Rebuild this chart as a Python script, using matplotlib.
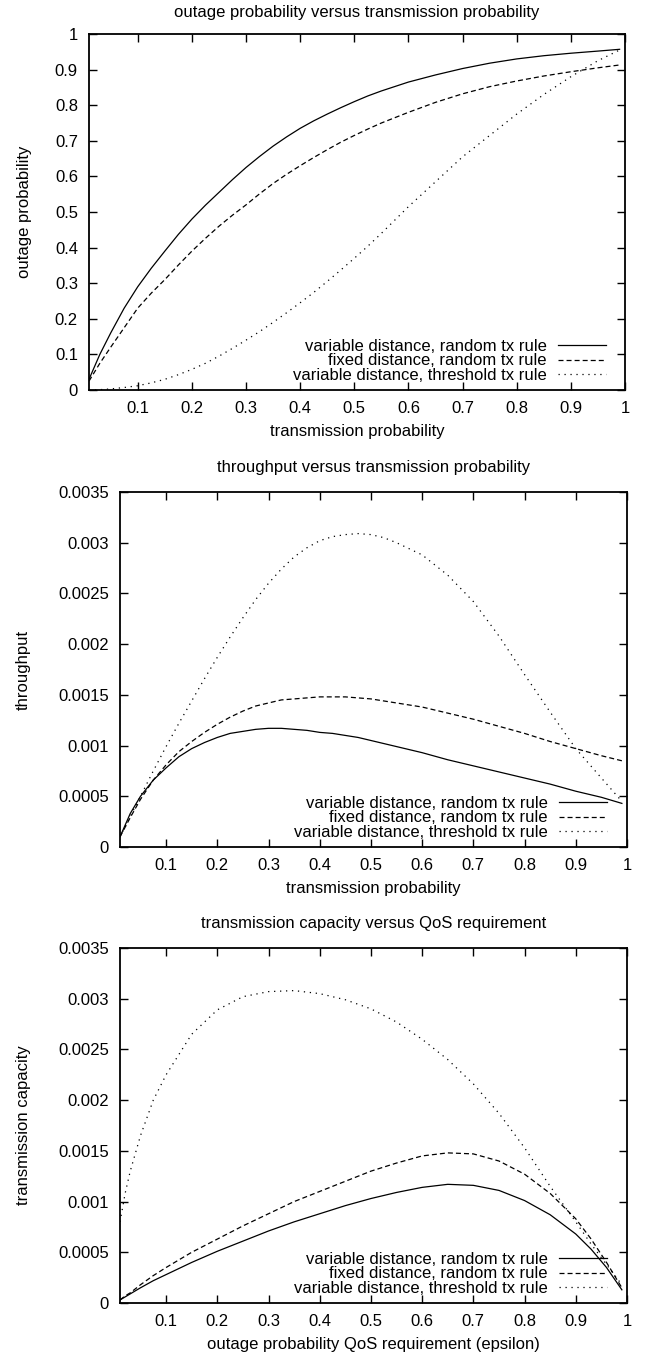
import matplotlib
matplotlib.use("Agg")
import matplotlib.pyplot as plt
from matplotlib.ticker import FuncFormatter

# ---- data ----
labels = ["variable distance, random tx rule",
          "fixed distance, random tx rule",
          "variable distance, threshold tx rule"]

p = [0.01, 0.03, 0.05, 0.075, 0.1, 0.125, 0.15, 0.175, 0.2, 0.225, 0.25, 0.275, 0.3,
     0.325, 0.35, 0.375, 0.4, 0.425, 0.45, 0.475, 0.5, 0.525, 0.55, 0.6, 0.65, 0.7,
     0.75, 0.8, 0.85, 0.9, 0.95, 0.99]

outage_var = [0.03, 0.10, 0.16, 0.23, 0.29, 0.342, 0.39, 0.437, 0.48, 0.519, 0.555, 0.591,
              0.625, 0.656, 0.685, 0.711, 0.735, 0.756, 0.775, 0.793, 0.81, 0.826, 0.84,
              0.865, 0.885, 0.903, 0.918, 0.93, 0.939, 0.946, 0.952, 0.957]
outage_fix = [0.025, 0.075, 0.12, 0.175, 0.23, 0.272, 0.31, 0.351, 0.39, 0.426, 0.46,
              0.491, 0.52, 0.551, 0.58, 0.606, 0.63, 0.653, 0.675, 0.696, 0.715, 0.733,
              0.75, 0.78, 0.808, 0.832, 0.852, 0.868, 0.882, 0.894, 0.905, 0.913]
outage_thr = [0.0, 0.001, 0.003, 0.007, 0.012, 0.02, 0.03, 0.043, 0.058, 0.075, 0.095,
              0.117, 0.14, 0.164, 0.19, 0.217, 0.245, 0.274, 0.305, 0.337, 0.37, 0.404,
              0.44, 0.515, 0.585, 0.655, 0.715, 0.775, 0.83, 0.88, 0.925, 0.955]

thr_var = [0.0001, 0.00033, 0.0005, 0.00066, 0.00078, 0.00089, 0.00097, 0.00103, 0.00108,
           0.00112, 0.00114, 0.00116, 0.00117, 0.00117, 0.00116, 0.00115, 0.00113,
           0.00112, 0.0011, 0.00108, 0.00105, 0.00102, 0.00099, 0.00093, 0.00086,
           0.0008, 0.00074, 0.00068, 0.00062, 0.00055, 0.00049, 0.00043]
thr_fix = [0.0001, 0.00029, 0.00047, 0.00066, 0.00081, 0.00094, 0.00104, 0.00113, 0.00121,
           0.00128, 0.00134, 0.00139, 0.00142, 0.00145, 0.00146, 0.00147, 0.00148,
           0.00148, 0.00148, 0.00147, 0.00146, 0.00144, 0.00142, 0.00138, 0.00132,
           0.00126, 0.00119, 0.00112, 0.00104, 0.00097, 0.0009, 0.00085]
thr_thr = [0.0001, 0.0003, 0.0005, 0.00075, 0.00099, 0.00122, 0.00144, 0.00166, 0.00187,
           0.00207, 0.00226, 0.00244, 0.0026, 0.00274, 0.00286, 0.00295, 0.00302,
           0.00306, 0.00308, 0.00309, 0.00308, 0.00305, 0.003, 0.00288, 0.00268,
           0.00242, 0.00208, 0.0017, 0.00133, 0.00097, 0.00068, 0.00045]

eps = [0.01, 0.02, 0.03, 0.05, 0.075, 0.1, 0.15, 0.2, 0.25, 0.3, 0.35, 0.4, 0.45, 0.5,
       0.55, 0.6, 0.65, 0.7, 0.75, 0.8, 0.85, 0.9, 0.93, 0.96, 0.99]
cap_var = [0.00003, 0.00006, 0.00009, 0.00015, 0.00022, 0.00028, 0.0004, 0.00051, 0.00061,
           0.00071, 0.0008, 0.00088, 0.00096, 0.00103, 0.00109, 0.00114, 0.00117,
           0.00116, 0.00111, 0.00101, 0.00087, 0.00068, 0.00053, 0.00035, 0.00013]
cap_fix = [0.00003, 0.00007, 0.0001, 0.00018, 0.00027, 0.00035, 0.0005, 0.00063, 0.00076,
           0.00088, 0.001, 0.0011, 0.0012, 0.0013, 0.00138, 0.00145, 0.00148, 0.00147,
           0.0014, 0.00127, 0.00108, 0.00083, 0.00063, 0.0004, 0.00015]
cap_thr = [0.0008, 0.00108, 0.0013, 0.00165, 0.002, 0.00225, 0.00265, 0.00289, 0.00302,
           0.00307, 0.00308, 0.00305, 0.00299, 0.0029, 0.00277, 0.0026, 0.0024, 0.00216,
           0.00187, 0.00153, 0.00115, 0.0008, 0.00058, 0.00038, 0.00018]

plt.rcParams['font.family'] = ['Liberation Sans', 'DejaVu Sans']
plt.rcParams['font.size'] = 12
plt.rcParams['lines.scale_dashes'] = False

styles = [dict(ls='-'), dict(ls=(0, (3.6, 2.2))), dict(ls=(0, (0.9, 3.4)))]

fig = plt.figure(figsize=(6.47, 13.61), dpi=100)


def panel(rect, x, ys, title, xlabel, ylabel, yticks, ylab_x, leg_x, title_y):
    ax = fig.add_axes(rect)
    for y, lab, st in zip(ys, labels, styles):
        ax.plot(x, y, color='black', lw=0.9, label=lab, **st)
    ax.set_xlim(0.01, 1)
    ax.set_ylim(yticks[0], yticks[-1])
    ax.set_xticks([0.1, 0.2, 0.3, 0.4, 0.5, 0.6, 0.7, 0.8, 0.9, 1])
    ax.set_yticks(yticks)
    fmt = FuncFormatter(lambda v, pos: "%g" % round(v, 6))
    ax.xaxis.set_major_formatter(fmt)
    ax.yaxis.set_major_formatter(fmt)
    ax.tick_params(direction='in', top=True, right=True, length=6, width=1, pad=8)
    for s in ax.spines.values():
        s.set_linewidth(1.3)
    ax.text(0.5, title_y, title, transform=ax.transAxes, ha='center', va='center')
    ax.set_xlabel(xlabel, labelpad=6)
    ax.set_ylabel(ylabel, va='center')
    ax.yaxis.set_label_coords(ylab_x, 0.5)
    ax.legend(loc='lower right', bbox_to_anchor=(leg_x, 0.02), frameon=False,
              markerfirst=False, handlelength=2.9, handletextpad=0.66,
              labelspacing=-0.03, borderpad=0, borderaxespad=0)
    return ax


panel([89 / 647, 1 - 390 / 1361, 536 / 647, 356 / 1361], p,
      [outage_var, outage_fix, outage_thr],
      "outage probability versus transmission probability",
      "transmission probability", "outage probability",
      [0, 0.1, 0.2, 0.3, 0.4, 0.5, 0.6, 0.7, 0.8, 0.9, 1], -0.12, 0.9646, 1.06)

ticks_t = [0, 0.0005, 0.001, 0.0015, 0.002, 0.0025, 0.003, 0.0035]

panel([120 / 647, 1 - 847 / 1361, 507 / 647, 355 / 1361], p,
      [thr_var, thr_fix, thr_thr],
      "throughput versus transmission probability",
      "transmission probability", "throughput", ticks_t, -0.19, 0.961, 1.07)

panel([120 / 647, 1 - 1303 / 1361, 507 / 647, 355 / 1361], eps,
      [cap_var, cap_fix, cap_thr],
      "transmission capacity versus QoS requirement",
      "outage probability QoS requirement (epsilon)", "transmission capacity",
      ticks_t, -0.19, 0.961, 1.07)

fig.savefig("out.png", dpi=100)
